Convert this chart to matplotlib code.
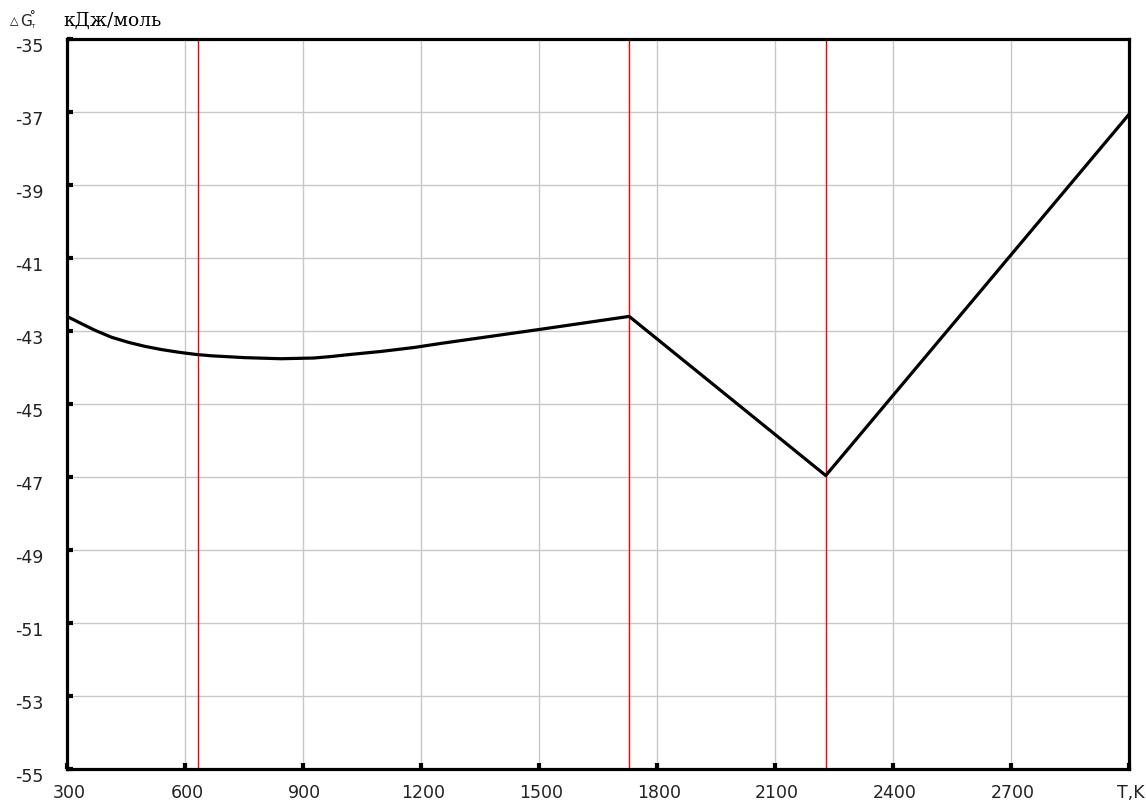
import matplotlib
matplotlib.use("Agg")
import matplotlib.pyplot as plt
from matplotlib.transforms import ScaledTranslation

# Data
T = [300, 337, 371, 413, 456, 498, 541, 583, 626, 668, 752, 844, 928, 971, 1014, 1099,
     1184, 1251, 1500, 1730, 2230, 3000]
G = [-42.60, -42.80, -42.98, -43.17, -43.31, -43.42, -43.51, -43.58, -43.64, -43.68,
     -43.73, -43.76, -43.74, -43.70, -43.65, -43.56, -43.45, -43.34, -42.96, -42.60,
     -46.96, -37.08]
transitions = [632, 1730, 2230]
x_ticks = [300, 600, 900, 1200, 1500, 1800, 2100, 2400, 2700, 3000]
x_tick_labels = ["300", "600", "900", "1200", "1500", "1800", "2100", "2400", "2700", "T,K"]
y_ticks = [-55, -53, -51, -49, -47, -45, -43, -41, -39, -37, -35]

fig = plt.figure(figsize=(11.46, 8.07), dpi=100)
ax = fig.add_axes([67/1146, 1-769/807, (1128.5-67)/1146, (769-39)/807])

ax.set_xlim(300, 3000)
ax.set_ylim(-55, -35)
ax.set_xticks(x_ticks)
ax.set_xticklabels(x_tick_labels)
ax.set_yticks(y_ticks)
ax.set_yticklabels([str(v) for v in y_ticks])

ax.grid(True, color="#c8c8c8", linewidth=1.0)
ax.set_axisbelow(True)

for t in transitions:
    ax.axvline(t, color="#ff0000", linewidth=1.0, zorder=2)

ax.plot(T, G, color="black", linewidth=2.3, zorder=3, solid_joinstyle="round")

for s in ax.spines.values():
    s.set_linewidth(2.3)
    s.set_color("black")
    s.set_zorder(4)

ax.tick_params(axis="both", direction="in", length=4.5, width=3, color="black",
               labelsize=12.5, labelcolor="#222222")
ax.tick_params(axis="y", pad=17)
ax.tick_params(axis="x", pad=11)
for lab in ax.get_xticklabels() + ax.get_yticklabels():
    lab.set_fontfamily("DejaVu Sans")
for lab in ax.get_yticklabels():
    lab.set_transform(lab.get_transform() + ScaledTranslation(0, -6/100, fig.dpi_scale_trans))
for lab in ax.get_xticklabels():
    lab.set_transform(lab.get_transform() + ScaledTranslation(2/100, 0, fig.dpi_scale_trans))

# Y axis title
fig.text(10/1146, 1-21/807, "\u25b3", fontsize=8, family=["DejaVu Sans"], va="center", ha="left")
fig.text(20/1146, 1-21/807, "G", fontsize=11, family=["DejaVu Sans"], va="center", ha="left", color="#222222")
fig.text(30/1146, 1-15/807, "\u00b0", fontsize=8, family=["DejaVu Sans"], va="center", ha="left")
fig.text(31/1146, 1-26/807, "T", fontsize=4, family=["DejaVu Sans"], va="center", ha="left")
fig.text(63/1146, 1-21/807, "кДж/моль", fontsize=13.5, family=["DejaVu Serif"], va="center", ha="left")

fig.savefig("out.png", dpi=100)
